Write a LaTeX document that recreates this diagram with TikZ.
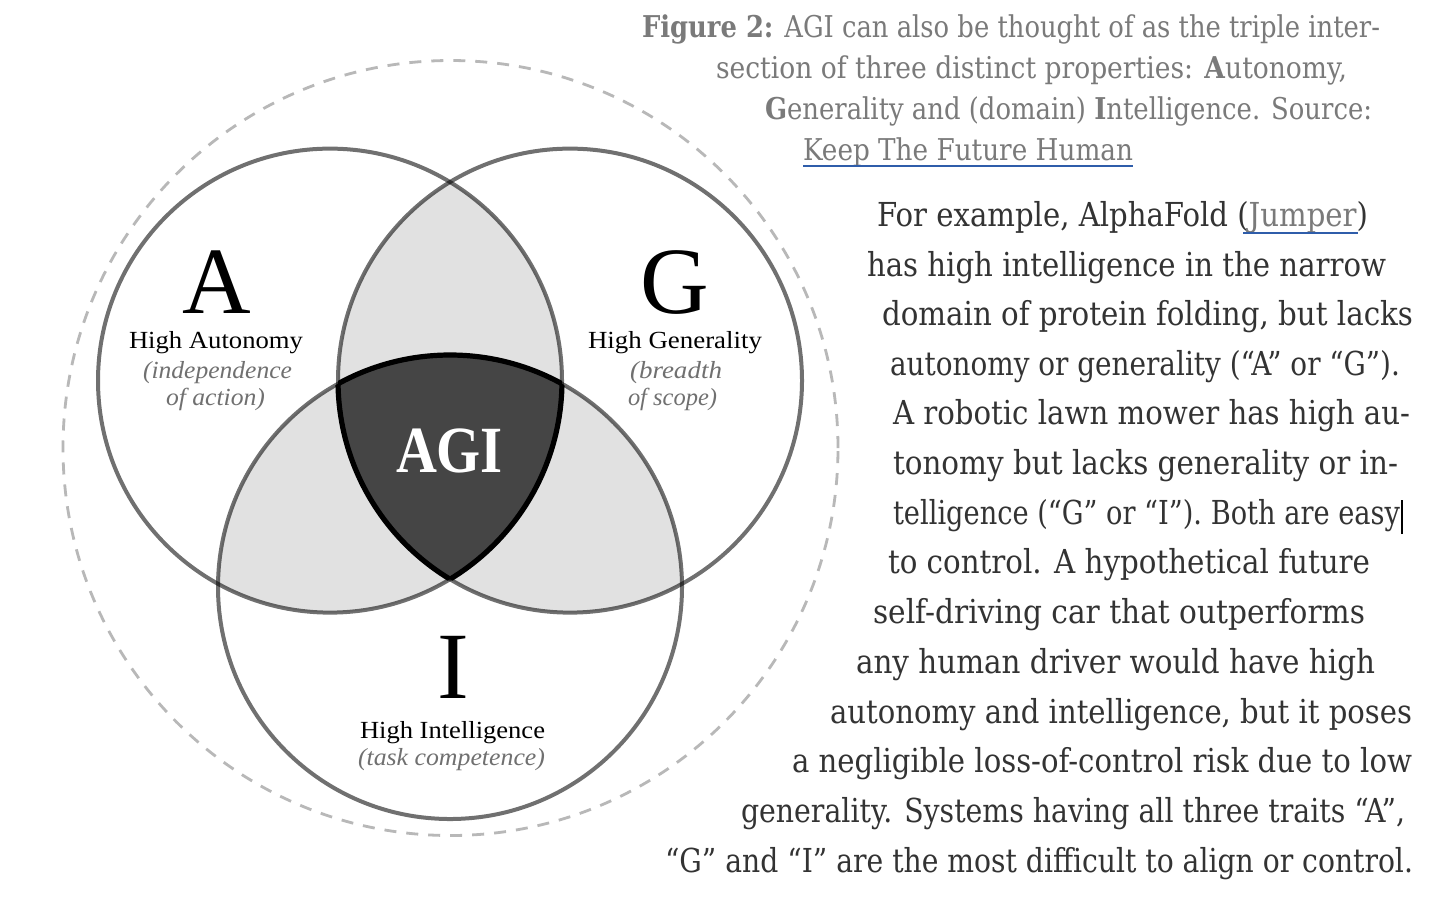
\documentclass[tikz,border=0pt]{standalone}
\usepackage{fontspec}
\usepackage{graphicx}
\setmainfont{Liberation Serif}
\newfontfamily\slab{DejaVu Serif}
\definecolor{lensgrey}{HTML}{E1E1E1}
\definecolor{coregrey}{HTML}{454545}
\definecolor{dashgrey}{HTML}{B8B8B8}
\definecolor{capgrey}{HTML}{7A7A7A}
\definecolor{bodygrey}{HTML}{333333}
\definecolor{italgrey}{HTML}{707070}
\definecolor{linkblue}{HTML}{2F5DAA}
\newcommand\fitline[6]{%
  \node[#5, anchor=base west, inner sep=0pt, outer sep=0pt] (#1) at (#2,#4)
    {\resizebox{\dimexpr 0.5pt*\numexpr#3-#2\relax\relax}{\height}{#6}};}
\tikzset{
  ring/.style={draw=black, draw opacity=0.56, line width=2pt},
  coreline/.style={draw=black, line width=2.6pt},
  outerring/.style={draw=dashgrey, line width=1.4pt, dash pattern=on 6pt off 5pt},
  bigletter/.style={font=\fontsize{47.5}{50}\selectfont, text=black, inner sep=0pt, anchor=base},
  label/.style={font=\fontsize{12.3}{14}\selectfont, text=black},
  ital/.style={font=\fontsize{12.3}{14}\selectfont\itshape, text=italgrey},
  captext/.style={font=\slab\fontsize{15}{17}\selectfont, text=capgrey},
  bodytext/.style={font=\slab\fontsize{16.5}{19}\selectfont, text=bodygrey},
  link/.style={draw=linkblue, line width=1pt},
}
\begin{document}
\begin{tikzpicture}[x=0.5pt,y=-0.5pt]
\useasboundingbox (0,0) rectangle (1456,902);
\fill[white] (0,0) rectangle (1456,902);
% centres
\coordinate (cA) at (330,380.6);
\coordinate (cG) at (570,380.6);
\coordinate (cI) at (450,587);
\coordinate (cO) at (450.5,448);
% outer dashed circle
\draw[outerring] (cO) circle[radius=193.75pt];
% pairwise lenses
\begin{scope}\clip (cA) circle[radius=116pt]; \fill[lensgrey] (cG) circle[radius=116pt];\end{scope}
\begin{scope}\clip (cA) circle[radius=116pt]; \fill[lensgrey] (cI) circle[radius=116pt];\end{scope}
\begin{scope}\clip (cG) circle[radius=116pt]; \fill[lensgrey] (cI) circle[radius=116pt];\end{scope}
% triple intersection
\begin{scope}\clip (cA) circle[radius=116pt]; \clip (cG) circle[radius=116pt]; \fill[coregrey] (cI) circle[radius=116pt];\end{scope}
% circles
\draw[ring] (cA) circle[radius=116pt];
\draw[ring] (cG) circle[radius=116pt];
\draw[ring] (cI) circle[radius=116pt];
% outline of the core
\begin{scope}\clip (cA) circle[radius=116pt]; \clip (cG) circle[radius=116pt]; \draw[coreline] (cI) circle[radius=116pt];\end{scope}
\begin{scope}\clip (cA) circle[radius=116pt]; \clip (cI) circle[radius=116pt]; \draw[coreline] (cG) circle[radius=116pt];\end{scope}
\begin{scope}\clip (cG) circle[radius=116pt]; \clip (cI) circle[radius=116pt]; \draw[coreline] (cA) circle[radius=116pt];\end{scope}
% Venn labels
\node[bigletter] (lA) at (217,313) {A};
\node[bigletter] (lG) at (675,313) {G};
\node[bigletter] (lI) at (453,698) {I};
\fitline{hA}{129}{303}{348}{label}{High Autonomy}
\fitline{iA1}{143}{292}{378}{ital}{(independence}
\fitline{iA2}{166}{265}{405}{ital}{of action)}
\fitline{hG}{588}{762}{348}{label}{High Generality}
\fitline{iG1}{630}{722}{378}{ital}{(breadth}
\fitline{iG2}{628}{717}{405}{ital}{of scope)}
\fitline{hI}{360}{545}{738}{label}{High Intelligence}
\fitline{iI1}{358}{545}{765}{ital}{(task competence)}
\fitline{agi}{396}{503}{472}{font=\fontsize{33}{36}\selectfont\bfseries, text=white}{AGI}
% caption
\fitline{cap1}{642}{1380}{37}{captext}{\textbf{Figure 2:} AGI can also be thought of as the triple inter-}
\fitline{cap2}{716}{1347}{78}{captext}{section of three distinct properties: \textbf{A}utonomy,}
\fitline{cap3}{765}{1372}{119}{captext}{\textbf{G}enerality and (domain) \textbf{I}ntelligence. Source:}
\fitline{cap4}{803}{1133}{160}{captext}{Keep The Future Human}
\draw[link] ([yshift=-3pt]cap4.base west) -- ([yshift=-3pt]cap4.base east);
% body
\fitline{b1}{877}{1368}{226}{bodytext}{For example, AlphaFold (\textcolor{capgrey}{Jumper})}
\draw[link] (1243,233) -- (1358,233);
\fitline{b2}{867}{1386}{276}{bodytext}{has high intelligence in the narrow}
\fitline{b3}{882}{1413}{325}{bodytext}{domain of protein folding, but lacks}
\fitline{b4}{890}{1400}{375}{bodytext}{autonomy or generality (“A” or “G”).}
\fitline{b5}{893}{1410}{424}{bodytext}{A robotic lawn mower has high au-}
\fitline{b6}{893}{1398}{474}{bodytext}{tonomy but lacks generality or in-}
\fitline{b7}{893}{1400}{524}{bodytext}{telligence (“G” or “I”). Both are easy}
\draw[black, line width=0.7pt] ([xshift=1pt,yshift=-5pt]b7.base east) -- ([xshift=1pt,yshift=12pt]b7.base east);
\fitline{b8}{888}{1370}{573}{bodytext}{to control. A hypothetical future}
\fitline{b9}{873}{1365}{623}{bodytext}{self-driving car that outperforms}
\fitline{b10}{856}{1375}{673}{bodytext}{any human driver would have high}
\fitline{b11}{830}{1412}{723}{bodytext}{autonomy and intelligence, but it poses}
\fitline{b12}{792}{1412}{772}{bodytext}{a negligible loss-of-control risk due to low}
\fitline{b13}{741}{1405}{822}{bodytext}{generality. Systems having all three traits “A”,}
\fitline{b14}{665}{1413}{872}{bodytext}{“G” and “I” are the most difficult to align or control.}
\end{tikzpicture}
\end{document}
